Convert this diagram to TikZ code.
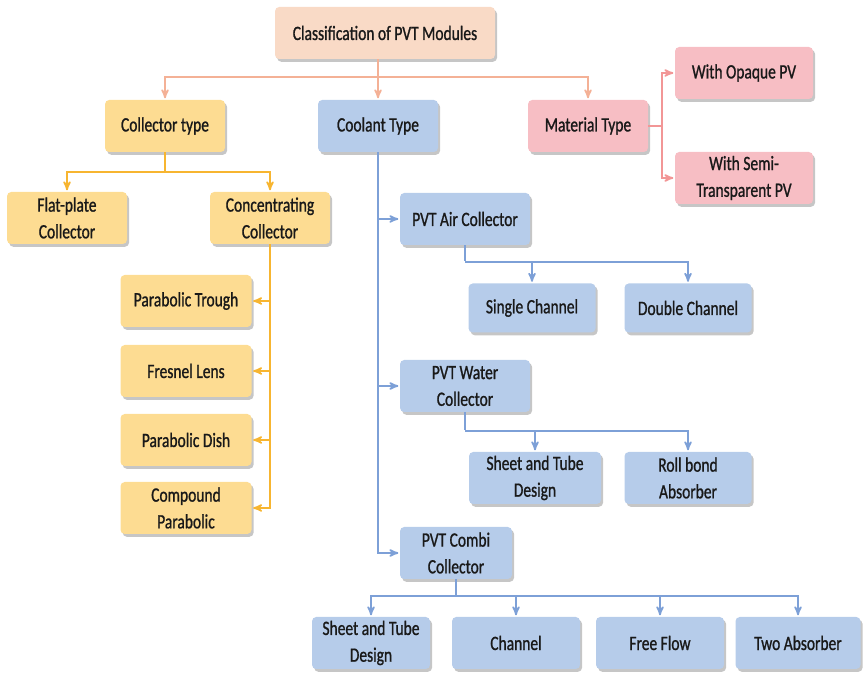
\documentclass[tikz,border=0pt]{standalone}
\usepackage{fontspec}
\setmainfont{Carlito}[FakeStretch=0.76,FakeBold=1]
\usetikzlibrary{arrows,positioning,shadows}

\definecolor{peachfill}{RGB}{249,218,198}
\definecolor{peachdraw}{RGB}{244,177,150}
\definecolor{yellowfill}{RGB}{253,220,146}
\definecolor{yellowdraw}{RGB}{247,181,48}
\definecolor{bluefill}{RGB}{182,204,234}
\definecolor{bluedraw}{RGB}{125,160,215}
\definecolor{pinkfill}{RGB}{247,190,196}
\definecolor{pinkdraw}{RGB}{242,150,150}

\tikzset{
  box/.style={rectangle,rounded corners=3pt,align=center,inner sep=1pt,
    minimum height=1.3cm,text=black!90,font=\fontsize{14.5}{19}\selectfont,
    drop shadow={shadow xshift=1.5pt,shadow yshift=-2pt,opacity=0.45}},
  peachbox/.style={box,fill=peachfill,minimum width=5.5cm},
  yellowbox/.style={box,fill=yellowfill,minimum width=3cm},
  bluebox/.style={box,fill=bluefill,minimum width=3.2cm},
  pinkbox/.style={box,fill=pinkfill,minimum width=3.45cm},
  peachline/.style={draw=peachdraw,line width=1.2pt},
  yellowline/.style={draw=yellowdraw,line width=1.2pt},
  blueline/.style={draw=bluedraw,line width=1.2pt},
  pinkline/.style={draw=pinkdraw,line width=1.2pt}
}

\begin{document}
\begin{tikzpicture}[>={stealth'[scale=1.2]},shorten >=1pt,on grid]
\useasboundingbox (0,0) rectangle (21.7,-16.9);

\node[peachbox] (root) at (9.625,-0.825) {Classification of PVT Modules};
\node[yellowbox] (coll) [below left=2.325cm and 5.5cm of root] {Collector type};
\node[bluebox,minimum width=3cm] (cool) [below left=2.325cm and 0.175cm of root] {Coolant Type};
\node[pinkbox,minimum width=3cm] (mat) [below right=2.325cm and 5.075cm of root] {Material Type};

\node[pinkbox] (opaque) [above right=1.325cm and 3.9cm of mat] {With Opaque PV};
\node[pinkbox] (semi) [below right=1.3cm and 3.9cm of mat] {With Semi-\\Transparent PV};

\node[yellowbox] (flat) [below left=2.3cm and 2.45cm of coll] {Flat-plate\\Collector};
\node[yellowbox] (conc) [below right=2.3cm and 2.625cm of coll] {Concentrating\\Collector};
\node[yellowbox,minimum width=3.275cm] (trough) [below left=2.075cm and 2.1cm of conc] {Parabolic Trough};
\node[yellowbox,minimum width=3.275cm] (fresnel) [below=1.75cm of trough] {Fresnel Lens};
\node[yellowbox,minimum width=3.275cm] (dish) [below=1.725cm of fresnel] {Parabolic Dish};
\node[yellowbox,minimum width=3.275cm] (compound) [below=1.7cm of dish] {Compound\\Parabolic};

\node[bluebox,minimum width=3.25cm] (air) [below right=2.325cm and 2.175cm of cool] {PVT Air Collector};
\node[bluebox,minimum width=3.175cm,minimum height=1.225cm] (single) [below right=2.225cm and 1.675cm of air] {Single Channel};
\node[bluebox,minimum width=3.175cm,minimum height=1.225cm] (double) [right=3.9cm of single] {Double Channel};

\node[bluebox,minimum width=3.25cm] (water) [below=4.175cm of air] {PVT Water\\Collector};
\node[bluebox,minimum width=3.3cm] (sheet) [below right=2.3cm and 1.75cm of water] {Sheet and Tube\\Design};
\node[bluebox,minimum width=3.175cm] (roll) [right=3.825cm of sheet] {Roll bond\\Absorber};

\node[bluebox,minimum width=2.8cm] (combi) [below left=4.175cm and 0.225cm of water] {PVT Combi\\Collector};
\node[bluebox,minimum width=2.95cm] (bsheet) [below left=2.25cm and 2.125cm of combi] {Sheet and Tube\\Design};
\node[bluebox] (bchan) [right=3.625cm of bsheet] {Channel};
\node[bluebox] (bfree) [right=3.6cm of bchan] {Free Flow};
\node[bluebox,minimum width=3.125cm] (btwo) [right=3.45cm of bfree] {Two Absorber};

% top level
\coordinate (rootbus) at ([yshift=-0.45cm]root.south);
\draw[peachline,->] (root.south -| cool) -- (cool);
\draw[peachline,->] (rootbus -| cool) -| (coll);
\draw[peachline,->] (rootbus -| cool) -| (mat);

% collector type
\coordinate (collbus) at ([yshift=-0.5cm]coll.south);
\draw[yellowline] (coll) -- (collbus);
\draw[yellowline,->] (collbus) -| (flat);
\draw[yellowline,->] (collbus) -| (conc);
\draw[yellowline,->] (conc) |- (trough);
\draw[yellowline,->] (conc) |- (fresnel);
\draw[yellowline,->] (conc) |- (dish);
\draw[yellowline,->] (conc) |- (compound);

% material type
\coordinate (matbus) at ([xshift=0.35cm]mat.east);
\draw[pinkline] (mat) -- (matbus);
\draw[pinkline,->] (matbus) |- (opaque);
\draw[pinkline,->] (matbus) |- (semi);

% coolant type
\draw[blueline,->] (cool) |- (air);
\draw[blueline,->] (cool) |- (water);
\draw[blueline,->] (cool) |- (combi);

\coordinate (airbus) at ([yshift=-0.425cm]air.south);
\draw[blueline] (air) -- (airbus);
\draw[blueline,->] (airbus) -| (single);
\draw[blueline,->] (airbus) -| (double);

\coordinate (waterbus) at ([yshift=-0.475cm]water.south);
\draw[blueline] (water) -- (waterbus);
\draw[blueline,->] (waterbus) -| (sheet);
\draw[blueline,->] (waterbus) -| (roll);

\coordinate (combibus) at ([yshift=-0.425cm]combi.south);
\draw[blueline] (combi) -- (combibus);
\draw[blueline,->] (combibus) -| (bsheet);
\draw[blueline,->] (combibus) -| (bchan);
\draw[blueline,->] (combibus) -| (bfree);
\draw[blueline,->] (combibus) -| (btwo);

\end{tikzpicture}
\end{document}
